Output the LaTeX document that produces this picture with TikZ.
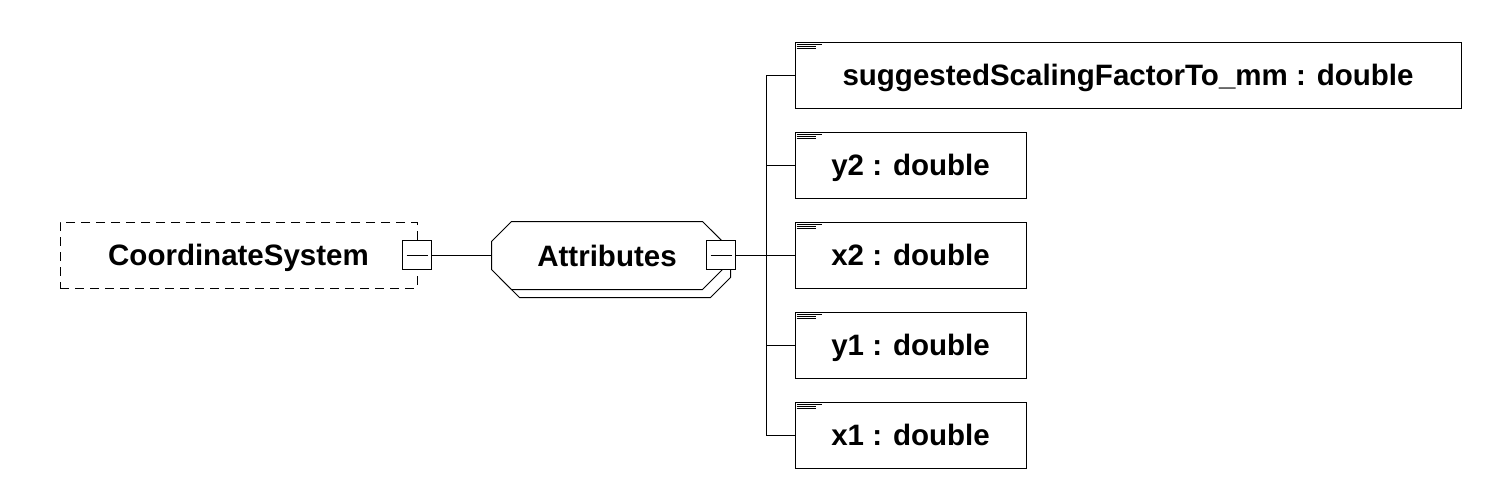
\documentclass[tikz,border=0pt]{standalone}
\usepackage{fontspec}
\setmainfont{Liberation Sans}
\usetikzlibrary{calc}
\begin{document}
\begin{tikzpicture}[x=1pt,y=-1pt,line width=1pt,
  lbl/.style={font=\fontsize{29.5}{35}\selectfont\bfseries, text height=21pt, text depth=0pt, inner sep=0pt},
  elem/.style={lbl, draw, fill=white, minimum height=66pt},
  minusbox/.style={draw, fill=white, minimum size=29pt, inner sep=0pt,
    path picture={\draw[line width=1pt] ([xshift=4pt]path picture bounding box.west) -- ([xshift=-4pt]path picture bounding box.east);}},
  optbox/.style={lbl, draw, dash pattern=on 9pt off 6pt, minimum width=357pt, minimum height=66pt},
  marks/.style={line width=0.9pt}]
\useasboundingbox (0,0) rectangle (1491,480);

% root element (optional, dashed)
\node[optbox] (cs) at (238.5,255) {CoordinateSystem};
\node[minusbox] (csm) at (417,255) {};

% attributes group (octagon with shadow)
\node[lbl, minimum width=230pt, minimum height=67pt] (attr) at (607,255.5) {};
\newcommand\octshape[2]{%
  \draw[fill=white] ($(attr.north west)+(20+#1,#2)$) -- ($(attr.north east)+(-20+#1,#2)$)
    -- ($(attr.north east)+(#1,20+#2)$) -- ($(attr.south east)+(#1,-20+#2)$)
    -- ($(attr.south east)+(-20+#1,#2)$) -- ($(attr.south west)+(20+#1,#2)$)
    -- ($(attr.south west)+(#1,-20+#2)$) -- ($(attr.north west)+(#1,20+#2)$) -- cycle;}
\octshape{8}{8}
\octshape{0}{0}
\node[lbl] (attrtxt) at (attr.center) {Attributes};
\node[minusbox] (am) at (721,255) {};

% children
\node[elem, minimum width=666pt] (c1) at (1128,75) {suggestedScalingFactorTo\_mm : double};
\node[elem, minimum width=231pt] (c2) at (910.5,165) {y2 : double};
\node[elem, minimum width=231pt] (c3) at (910.5,255) {x2 : double};
\node[elem, minimum width=231pt] (c4) at (910.5,345) {y1 : double};
\node[elem, minimum width=231pt] (c5) at (910.5,435) {x1 : double};

\foreach \c in {c1,c2,c3,c4,c5}{
  \draw[marks] ($(\c.north west)+(2,2.5)$) -- ++(25,0);
  \draw[marks] ($(\c.north west)+(2,4.5)$) -- ++(19,0);
  \draw[marks] ($(\c.north west)+(2,6.5)$) -- ++(19,0);
}

% connectors
\coordinate (bus) at (766,255);
\draw (csm.east) -- (attr.west |- csm.east);
\draw (am.east) -- (c3.west);
\foreach \c in {c1,c2,c4,c5}{ \draw (\c.west) -- (\c.west -| bus); }
\draw (c1.west -| bus) -- (c5.west -| bus);
\end{tikzpicture}
\end{document}
